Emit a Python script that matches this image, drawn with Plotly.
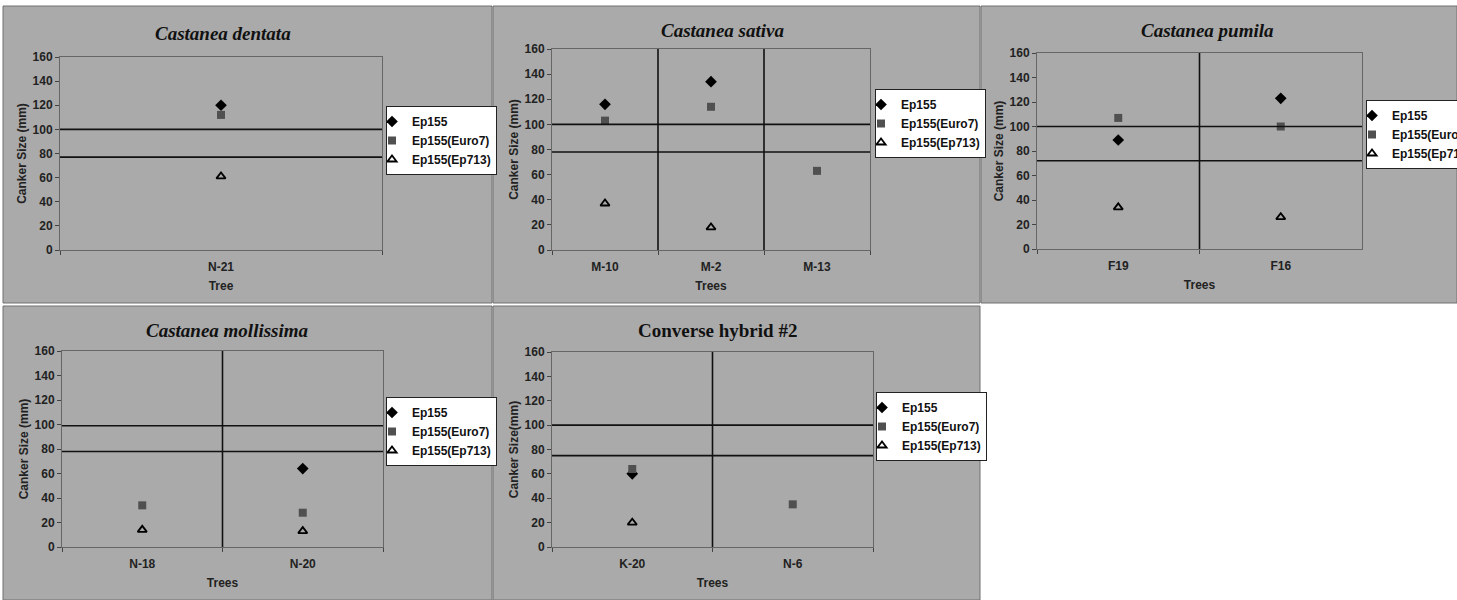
import plotly.graph_objects as go

W, H = 1457, 600

# ---------------- data ----------------
titles = ["Castanea dentata", "Castanea sativa", "Castanea pumila",
          "Castanea mollissima", "Converse hybrid #2"]
title_italic = [True, True, True, True, False]
x_titles = ["Tree", "Trees", "Trees", "Trees", "Trees"]
y_titles = ["Canker Size (mm)", "Canker Size (mm)", "Canker Size (mm)",
            "Canker Size (mm)", "Canker Size(mm)"]

cats1 = ["N-21"]
ep155_1 = [120]
euro7_1 = [112]
ep713_1 = [61]
thr1 = [100, 77]

cats2 = ["M-10", "M-2", "M-13"]
ep155_2 = [116, 134, None]
euro7_2 = [103, 114, 63]
ep713_2 = [37, 18, None]
thr2 = [100, 78]

cats3 = ["F19", "F16"]
ep155_3 = [89, 123]
euro7_3 = [107, 100]
ep713_3 = [34, 26]
thr3 = [100, 72]

cats4 = ["N-18", "N-20"]
ep155_4 = [None, 64]
euro7_4 = [34, 28]
ep713_4 = [14, 13]
thr4 = [99, 78]

cats5 = ["K-20", "N-6"]
ep155_5 = [60, None]
euro7_5 = [64, 35]
ep713_5 = [20, None]
thr5 = [100, 75]

series_names = ["Ep155", "Ep155(Euro7)", "Ep155(Ep713)"]
y_ticks = [0, 20, 40, 60, 80, 100, 120, 140, 160]

panels = [
    (cats1, ep155_1, euro7_1, ep713_1, thr1),
    (cats2, ep155_2, euro7_2, ep713_2, thr2),
    (cats3, ep155_3, euro7_3, ep713_3, thr3),
    (cats4, ep155_4, euro7_4, ep713_4, thr4),
    (cats5, ep155_5, euro7_5, ep713_5, thr5),
]

# ---------------- layout geometry (pixels) ----------------
plot_boxes = [(60, 382, 57, 250), (552, 870, 49, 250), (1037, 1362, 53, 249),
              (62, 383, 351, 547), (552, 873, 352, 547)]
legend_pos = [(386, 106), (875, 89), (1366, 100), (386, 397), (876, 392)]
title_pos = [(223, 34), (722, 30), (1207, 31), (228, 330), (717, 330)]
panel_rects = [(3, 492, 6, 303), (493, 980, 6, 303), (981, 1457, 6, 303),
               (3, 492, 306, 600), (493, 980, 306, 600)]

def px(x):
    return x / W

def py(y):
    return 1 - y / H

sans = "Arial, Liberation Sans, sans-serif"
serif = "Times New Roman, Liberation Serif, serif"

styles = [
    dict(symbol="diamond", color="black", size=9, line=dict(width=0)),
    dict(symbol="square", color="#505050", size=8, line=dict(width=0)),
    dict(symbol="triangle-up-open", color="black", size=8, line=dict(width=1.8, color="black")),
]

fig = go.Figure()
shapes = []
annotations = []

for r in panel_rects:
    shapes.append(dict(type="rect", xref="paper", yref="paper", layer="below",
                       x0=px(r[0]), x1=px(r[1]), y0=py(r[3]), y1=py(r[2]),
                       fillcolor="#aaaaaa", line=dict(color="#707070", width=1)))

for i, (cats, a, b, c, thr) in enumerate(panels):
    n = i + 1
    xa = "x" if n == 1 else f"x{n}"
    ya = "y" if n == 1 else f"y{n}"
    lg = "legend" if n == 1 else f"legend{n}"
    for name, vals, st in zip(series_names, [a, b, c], styles):
        fig.add_trace(go.Scatter(x=cats, y=vals, mode="markers", name=name,
                                 xaxis=xa, yaxis=ya, legend=lg,
                                 marker=st, cliponaxis=False))
    x0, x1, y0, y1 = plot_boxes[i]
    axis_kw = dict(domain=[px(x0), px(x1)], anchor=ya, type="category",
                   categoryorder="array", categoryarray=cats,
                   range=[-0.5, len(cats) - 0.5],
                   showline=True, mirror=True, linecolor="#666", linewidth=1,
                   ticks="outside", tickson="boundaries", ticklen=4, tickcolor="#444",
                   ticklabelstandoff=6,
                   showgrid=False, zeroline=False,
                   tickfont=dict(family=sans, size=12, color="#222", weight="bold"),
                   title=dict(text=x_titles[i], standoff=8,
                              font=dict(family=sans, size=12, color="#222", weight="bold")))
    yaxis_kw = dict(domain=[py(y1), py(y0)], anchor=xa, range=[0, 160],
                    tickvals=y_ticks, showline=True, mirror=True, linecolor="#666",
                    linewidth=1, ticks="outside", ticklen=4, tickcolor="#444",
                    showgrid=False, zeroline=False,
                    tickfont=dict(family=sans, size=12, color="#222", weight="bold"),
                    title=dict(text=y_titles[i], standoff=3,
                               font=dict(family=sans, size=12, color="#222", weight="bold")))
    fig.update_layout(**{("xaxis" if n == 1 else f"xaxis{n}"): axis_kw,
                         ("yaxis" if n == 1 else f"yaxis{n}"): yaxis_kw})
    # threshold lines
    for t in thr:
        shapes.append(dict(type="line", xref=f"{xa} domain", yref=ya,
                           x0=0, x1=1, y0=t, y1=t,
                           line=dict(color="#111", width=1.6)))
    # category separators
    for k in range(len(cats) - 1):
        shapes.append(dict(type="line", xref=xa, yref=f"{ya} domain",
                           x0=k + 0.5, x1=k + 0.5, y0=0, y1=1,
                           line=dict(color="#111", width=1.6)))
    lx, ly = legend_pos[i]
    fig.update_layout(**{lg: dict(x=px(lx), y=py(ly), xanchor="left", yanchor="top",
                                  bgcolor="white", bordercolor="#222", borderwidth=1,
                                  font=dict(family=sans, size=12, color="#111", weight="bold"),
                                  itemwidth=30, indentation=-15, tracegroupgap=0)})
    tx, ty = title_pos[i]
    annotations.append(dict(text=titles[i], x=px(tx), y=py(ty), xref="paper", yref="paper",
                            showarrow=False, xanchor="center", yanchor="middle",
                            font=dict(family=serif, size=19, color="#111", weight="bold",
                                      style="italic" if title_italic[i] else "normal")))

fig.update_layout(width=W, height=H, margin=dict(l=0, r=0, t=0, b=0, autoexpand=False),
                  paper_bgcolor="white", plot_bgcolor="white",
                  shapes=shapes, annotations=annotations, showlegend=True)

fig.write_html("out.html", config={"displayModeBar": False},
               post_script="document.body.style.margin='0';document.body.style.overflow='hidden';")
